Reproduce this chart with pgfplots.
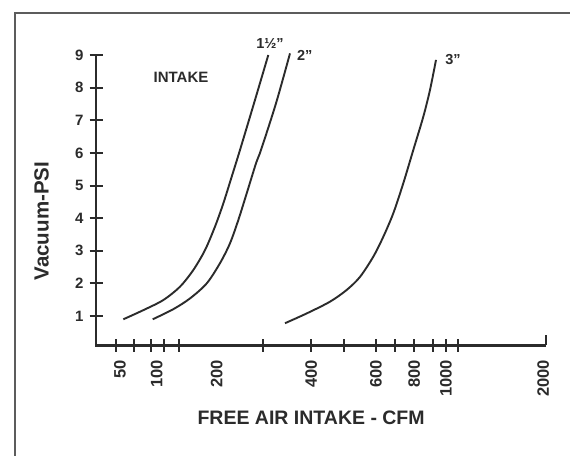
\documentclass[border=0pt]{standalone}
\usepackage{fontspec}
\setmainfont{Liberation Sans}
\usepackage{pgfplots}
\pgfplotsset{compat=1.18}
\definecolor{ink}{HTML}{2B2B2B}
\definecolor{frame}{HTML}{5C5C5C}
\begin{document}
\begin{tikzpicture}
\useasboundingbox (0,0) rectangle (570pt,455pt);
\fill[white] (0,0) rectangle (570pt,455pt);
\draw[frame, line width=2pt] (15pt,-5pt) -- (15pt,442pt) -- (580pt,442pt);
\begin{axis}[
  at={(96pt,109.6pt)}, anchor=south west,
  scale only axis, width=450pt, height=290.4pt,
  xmin=0, xmax=450, ymin=0.1, ymax=9,
  axis line style={draw=none},
  xtick pos=bottom, ytick pos=left,
  clip=false,
  /pgf/number format/assume math mode=true,
  tick align=center,
  major tick length=0pt,
  minor tick length=13pt,
  minor tick style={line width=2pt, ink},
  minor xtick={19.7,38.3,54.7,68,83.3,166.7,215.3,248,280,299.3,318.3,336.7,350,362.3},
  minor ytick={1,2,3,4,5,6,7,8,9},
  xtick={24,60.7,120.7,215.3,280,318.3,350,447.3},
  xticklabels={50,100,200,400,600,800,1000,2000},
  xticklabel style={rotate=90, anchor=east, xshift=-11pt, text=ink,
    font=\bfseries\fontsize{16.5}{16.5}\selectfont},
  ytick={1,2,3,4,5,6,7,8,9},
  yticklabels={1,2,3,4,5,6,7,8,9},
  yticklabel style={text=ink, xshift=-9pt, font=\bfseries\fontsize{15}{15}\selectfont},
  ylabel={Vacuum-PSI},
  ylabel style={at={(axis description cs:-0.1207,0.428)}, rotate=0, anchor=center,
    text=ink, font=\bfseries\fontsize{20.5}{20.5}\selectfont},
  xlabel={FREE AIR INTAKE - CFM},
  xlabel style={at={(axis description cs:0.478,-0.25)}, anchor=center,
    text=ink, font=\bfseries\fontsize{19.5}{19.5}\selectfont},
  after end axis/.code={
    \draw[line width=2.2pt, ink] (rel axis cs:0,1) -- (rel axis cs:0,0) -- (rel axis cs:1,0);
    \draw[line width=2pt, ink] (axis cs:450,0.1) -- ++(0,10pt);
  },
]
\addplot[ink, line width=1.9pt, smooth] coordinates {
 (27.3,0.90) (47.3,1.18) (67.3,1.49) (84,1.90) (97.3,2.41) (109,3.02)
 (119,3.74) (127.3,4.45) (135.7,5.27) (144,6.09) (158,7.52) (172.3,9.0)};
\addplot[ink, line width=1.9pt, smooth] coordinates {
 (56.7,0.90) (77.3,1.21) (94,1.54) (110.7,2.0) (124,2.62) (134,3.23)
 (142.3,3.94) (150.7,4.76) (160,5.68) (165,6.09) (180,7.52) (194,9.05)};
\addplot[ink, line width=1.9pt, smooth] coordinates {
 (189,0.78) (210.7,1.08) (234,1.44) (250.7,1.80) (264,2.20) (277.3,2.82)
 (287.3,3.43) (297.3,4.15) (307.3,5.07) (317.3,6.09) (327.3,7.11) (334,7.93) (340,8.85)};
\node[text=ink, font=\bfseries\fontsize{15}{15}\selectfont] at (axis cs:85,8.31) {INTAKE};
\node[text=ink, font=\bfseries\fontsize{14.5}{14.5}\selectfont] at (axis cs:174,9.34) {1½”};
\node[text=ink, font=\bfseries\fontsize{14.5}{14.5}\selectfont] at (axis cs:208.7,9.0) {2”};
\node[text=ink, font=\bfseries\fontsize{14.5}{14.5}\selectfont] at (axis cs:357,8.85) {3”};
\end{axis}
\end{tikzpicture}
\end{document}
